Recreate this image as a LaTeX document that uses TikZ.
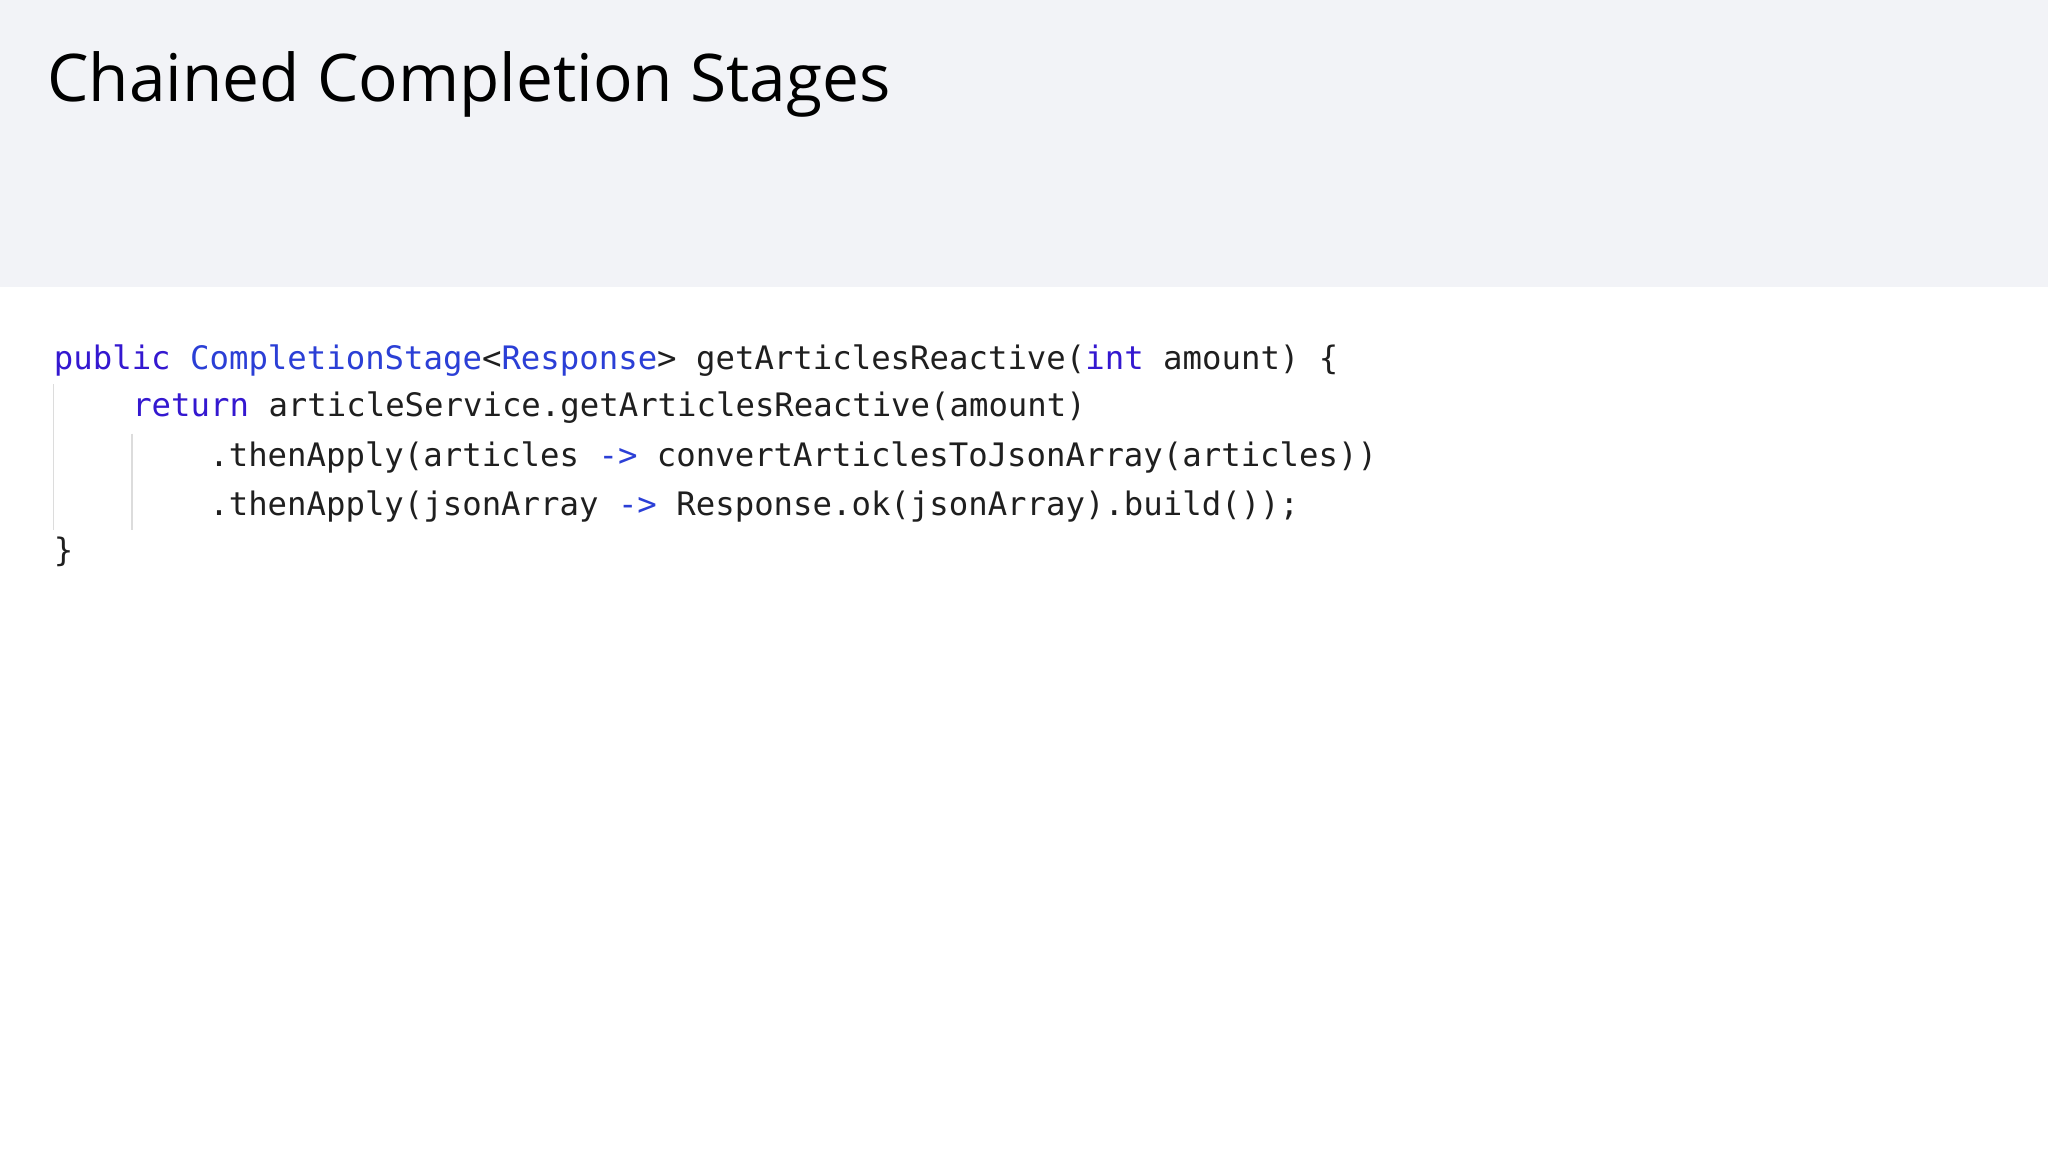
\documentclass[tikz,border=0pt]{standalone}
\usepackage{fontspec}
\setmainfont{Open Sans}
\setmonofont{DejaVu Sans Mono}
\definecolor{hdr}{HTML}{F2F3F7}
\definecolor{kw}{HTML}{3418D0}
\definecolor{ty}{HTML}{2B3FD6}
\definecolor{guide}{HTML}{DCDCDC}
\begin{document}
\begin{tikzpicture}[x=0.025cm,y=-0.025cm,
  code/.style={anchor=base west,inner sep=0,font=\ttfamily\fontsize{17.6}{20}\selectfont,text=black!88}]
\useasboundingbox (0,0) rectangle (1568,882);
\fill[white] (0,0) rectangle (1568,882);
\fill[hdr] (0,0) rectangle (1568,220);
\node[anchor=base west,inner sep=0,font=\fontsize{35.8}{42}\selectfont] (title) at (36,78) {Chained Completion Stages};
\draw[guide,line width=1pt] (41,294) -- (41,406);
\draw[guide,line width=1pt] (101,332) -- (101,406);
\node[code] (l1) at (41,283) {\textcolor{kw}{public} \textcolor{ty}{CompletionStage}<\textcolor{ty}{Response}> getArticlesReactive(\textcolor{kw}{int} amount) \{};
\node[code] (l2) at (101,319) {\textcolor{kw}{return} articleService.getArticlesReactive(amount)};
\node[code] (l3) at (160,357) {.thenApply(articles \textcolor{ty}{->} convertArticlesToJsonArray(articles))};
\node[code] (l4) at (160,395) {.thenApply(jsonArray \textcolor{ty}{->} Response.ok(jsonArray).build());};
\node[code] (l5) at (41,430) {\}};
\end{tikzpicture}
\end{document}
